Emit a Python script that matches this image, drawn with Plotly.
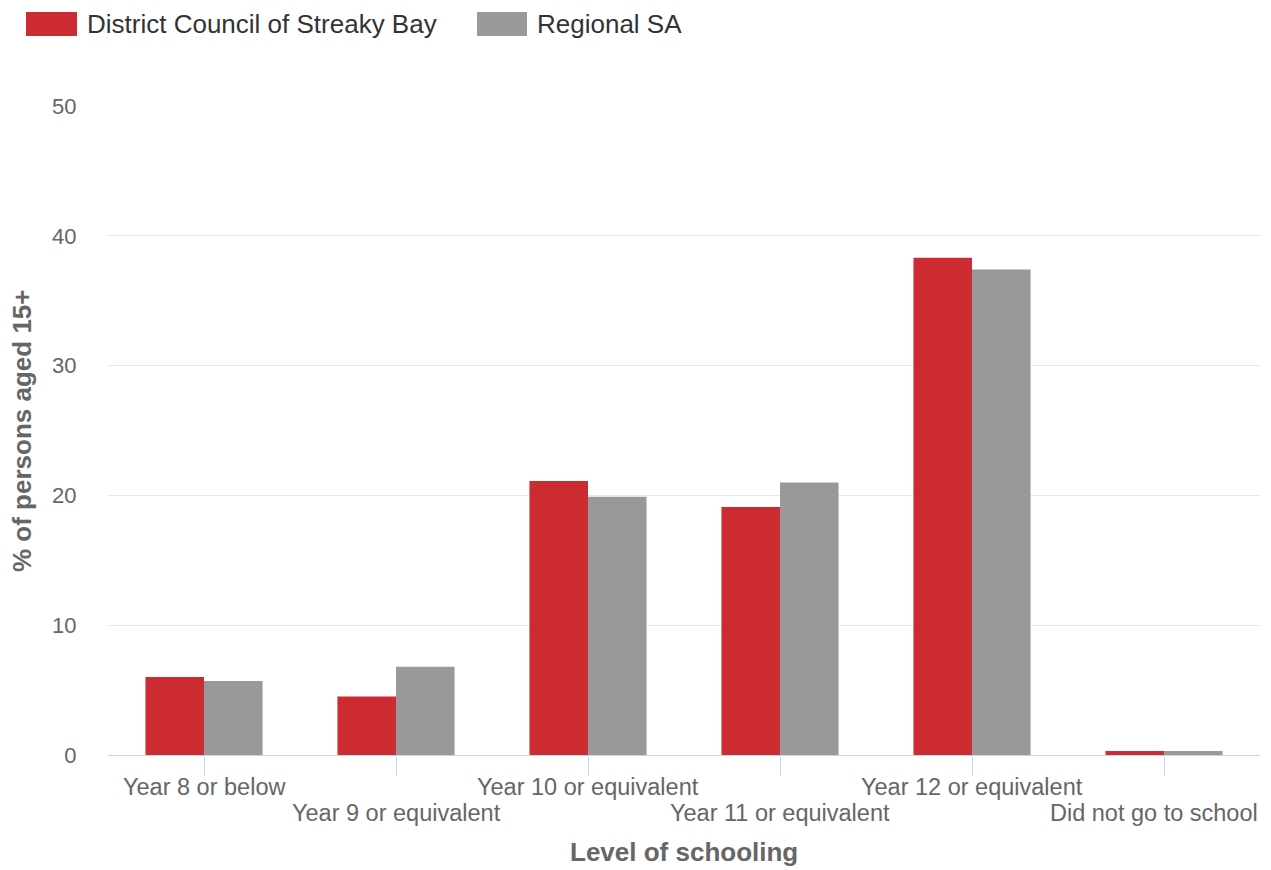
import plotly.graph_objects as go

categories = ["Year 8 or below", "Year 9 or equivalent", "Year 10 or equivalent",
              "Year 11 or equivalent", "Year 12 or equivalent", "Did not go to school"]
streaky_bay = [6.0, 4.5, 21.1, 19.1, 38.3, 0.3]
regional_sa = [5.7, 6.8, 19.9, 21.0, 37.4, 0.3]
series_names = ["District Council of Streaky Bay", "Regional SA"]
colors = ["#cc2c31", "#999999"]
x_title = "Level of schooling"
y_title = "% of persons aged 15+"

OFF = 8  # page body margin
W, H = 1271 - OFF, 870 - OFF
# plot area in screen pixels: x 108..1260, y 106..755
L = 108 - OFF
T = 106 - OFF
R = W - (1260 - OFF)
B = H - (755 - OFF)
pw, ph = W - L - R, H - T - B

def px_x(x):
    return (x - OFF - L) / pw

def px_y(y):
    return (H - B - (y - OFF)) / ph

fig = go.Figure()
for name, vals, col in zip(series_names, [streaky_bay, regional_sa], colors):
    fig.add_trace(go.Bar(x=categories, y=vals, name=name, marker_color=col,
                         marker_line_width=0, showlegend=False))

shapes = []
annotations = []
# legend
leg = [(26, 77, 87), (477, 527, 537)]
for (x0, x1, tx), name, col in zip(leg, series_names, colors):
    shapes.append(dict(type="rect", xref="paper", yref="paper",
                       x0=px_x(x0), x1=px_x(x1), y0=px_y(36), y1=px_y(12),
                       fillcolor=col, line_width=0))
    annotations.append(dict(xref="paper", yref="paper", x=px_x(tx), y=px_y(24),
                            text=name, showarrow=False, xanchor="left", yanchor="middle",
                            xshift=-2, font=dict(size=26, color="#333333")))

# staggered category labels
for i, c in enumerate(categories):
    ann = dict(xref="x", yref="paper", x=c,
               y=px_y(787 if i % 2 == 0 else 813),
               text=c, showarrow=False, xanchor="center", yanchor="middle",
               font=dict(size=23.5, color="#666666"))
    if i == len(categories) - 1:
        # last label is pulled inside the chart edge
        ann.update(xref="paper", x=px_x(1260), xanchor="right")
    annotations.append(ann)

# axis titles
annotations.append(dict(xref="paper", yref="paper", x=px_x(684), y=px_y(852),
                        text="<b>" + x_title + "</b>", showarrow=False,
                        xanchor="center", yanchor="middle",
                        font=dict(size=26, color="#666666")))
annotations.append(dict(xref="paper", yref="paper", x=px_x(22), y=px_y(431),
                        text="<b>" + y_title + "</b>", showarrow=False, textangle=-90,
                        xanchor="center", yanchor="middle",
                        font=dict(size=26, color="#666666")))

fig.update_layout(
    width=W, height=H,
    margin=dict(l=L, r=R, t=T, b=B, autoexpand=False),
    paper_bgcolor="white", plot_bgcolor="white",
    font=dict(family="Liberation Sans, Arial, sans-serif", color="#666666"),
    barmode="group", bargap=0.39, bargroupgap=0,
    shapes=shapes, annotations=annotations,
    xaxis=dict(tickmode="array", tickvals=categories, showticklabels=False,
               range=[-0.5, len(categories) - 0.5],
               showline=True, linecolor="#ccd6eb", linewidth=1,
               ticks="outside", ticklen=20, tickcolor="#ccd6eb", tickwidth=1,
               showgrid=False),
    yaxis=dict(range=[0, 50], tickvals=[0, 10, 20, 30, 40, 50],
               showgrid=True, gridcolor="#e6e6e6", gridwidth=1, zeroline=False,
               ticks="outside", ticklen=26, tickcolor="rgba(0,0,0,0)",
               tickfont=dict(size=22, color="#666666")),
)

fig.write_html("out.html")
